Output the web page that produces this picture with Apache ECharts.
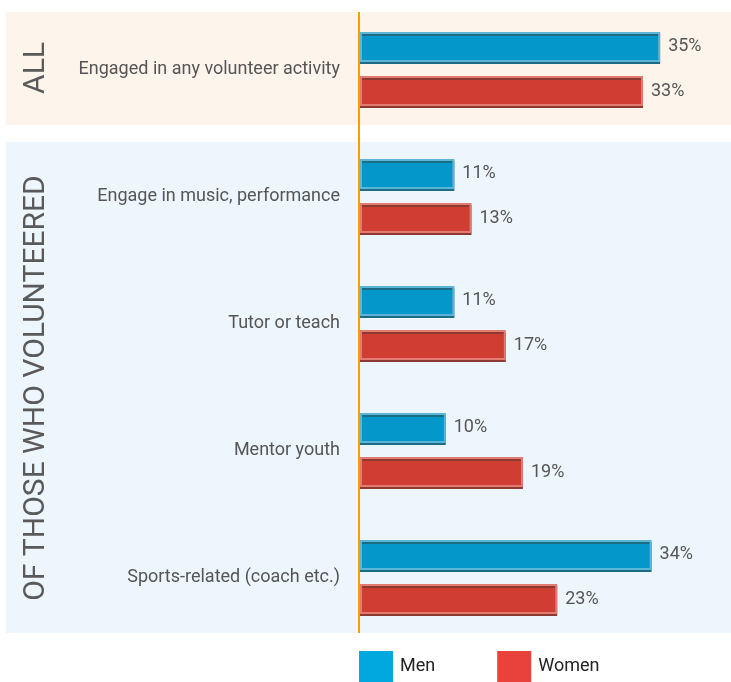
<!DOCTYPE html>
<html><head><meta charset="utf-8">
<script src="https://cdn.jsdelivr.net/npm/echarts@6/dist/echarts.min.js"></script>
<style>html,body{margin:0;padding:0;background:#fff}#c{width:731px;height:682px}</style>
</head><body><div id="c"></div>
<script>
const categories = ['Engaged in any volunteer activity','Engage in music, performance','Tutor or teach','Mentor youth','Sports-related (coach etc.)'];
const men = [35, 11, 11, 10, 34];
const women = [33, 13, 17, 19, 23];
const seriesNames = ['Men', 'Women'];
const sectionLabels = ['ALL', 'OF THOSE WHO VOLUNTEERED'];

const chart = echarts.init(document.getElementById('c'));
const font = 'Roboto, "Noto Sans", sans-serif';
function barStyle(fill, border, shadow) {
  return { color: fill, borderColor: border, borderWidth: 2, shadowColor: shadow, shadowOffsetY: 2, shadowOffsetX: 0, shadowBlur: 0 };
}
chart.setOption({
  animation: false,
  textStyle: { fontFamily: font },
  graphic: [
    { type: 'rect', z: -10, shape: { x: 6, y: 12, width: 725, height: 113 }, style: { fill: '#fdf4eb' } },
    { type: 'rect', z: -10, shape: { x: 6, y: 142, width: 725, height: 491 }, style: { fill: '#edf5fd' } },
    { type: 'line', z: 10, shape: { x1: 359, y1: 12, x2: 359, y2: 633 }, style: { stroke: '#f5a000', lineWidth: 2 } },
    { type: 'text', x: 36, y: 68, rotation: Math.PI / 2, style: { text: sectionLabels[0], font: '30px ' + font, fill: '#5a5a5a', align: 'center', verticalAlign: 'middle' } },
    { type: 'text', x: 36, y: 388, rotation: Math.PI / 2, style: { text: sectionLabels[1], font: '30px ' + font, fill: '#5a5a5a', align: 'center', verticalAlign: 'middle' } }
  ],
  legend: {
    left: 359, top: 651, padding: 0, itemWidth: 34, itemHeight: 31, itemGap: 62,
    icon: 'rect',
    textStyle: { fontSize: 18, color: '#222', fontFamily: font, padding: [4, 0, 0, 2] },
    data: [
      { name: seriesNames[0], itemStyle: { color: '#00a8e0', borderWidth: 0, shadowColor: 'transparent' } },
      { name: seriesNames[1], itemStyle: { color: '#e8423a', borderWidth: 0, shadowColor: 'transparent' } }
    ]
  },
  grid: { left: 360, right: 28, top: 5.5, bottom: 41.5, containLabel: false },
  xAxis: { type: 'value', min: 0, max: 40, show: false },
  yAxis: {
    type: 'category', data: categories, inverse: true,
    axisLine: { show: false }, axisTick: { show: false },
    axisLabel: { margin: 20, fontSize: 18, color: '#555', fontFamily: font }
  },
  series: [
    { name: seriesNames[0], type: 'bar', data: men, barWidth: 30, barGap: '47%',
      itemStyle: barStyle('#0398c9', '#5ab5d6', '#1c6c86'),
      label: { show: true, position: 'right', distance: 8, formatter: '{c}%', fontSize: 18, color: '#555', fontFamily: font } },
    { name: seriesNames[1], type: 'bar', data: women, barWidth: 30,
      itemStyle: barStyle('#d03d32', '#e27b72', '#8e3a33'),
      label: { show: true, position: 'right', distance: 8, formatter: '{c}%', fontSize: 18, color: '#555', fontFamily: font } }
  ]
});
</script></body></html>
